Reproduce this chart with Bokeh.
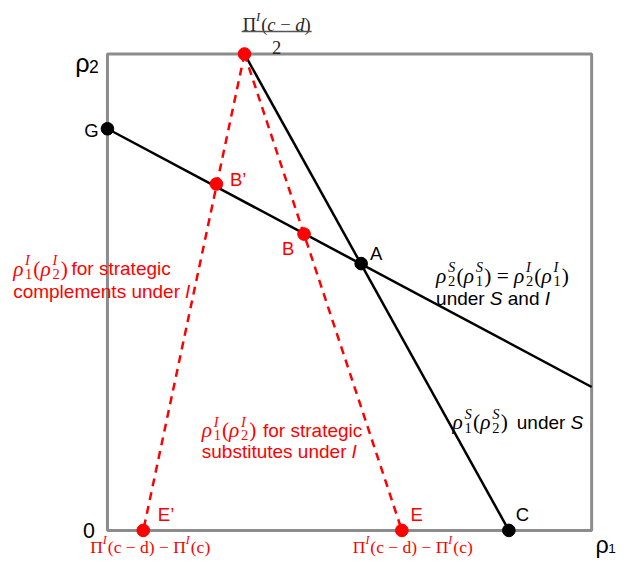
from bokeh.plotting import figure
from bokeh.models import Range1d
from bokeh.embed import file_html
from bokeh.resources import INLINE
from bokeh.core.properties import value

# ---------------- data (unit box: rho1 along x, rho2 along y) ----------------
best_response_S_x = [0.283, 0.829]      # rho1^S(rho2^S) under S
best_response_S_y = [1.0, 0.0]
common_line_x = [0.0, 1.0]              # rho2^S(rho1^S) = rho2^I(rho1^I)
common_line_y = [0.843, 0.301]
complements_x = [0.283, 0.074]          # rho1^I(rho2^I) strategic complements
complements_y = [1.0, 0.0]
substitutes_x = [0.283, 0.608]          # rho1^I(rho2^I) strategic substitutes
substitutes_y = [1.0, 0.0]

black_pts_x = [0.0, 0.524, 0.829]
black_pts_y = [0.843, 0.560, 0.0]
black_pts_lab = ["G", "A", "C"]

red_pts_x = [0.283, 0.225, 0.406, 0.074, 0.608]
red_pts_y = [1.0, 0.727, 0.622, 0.0, 0.0]
red_pts_lab = ["", "B\u2019", "B", "E\u2019", "E"]

# ---------------- figure ----------------
W, H = 616, 561
S = H / 577.0                           # layout scale so the whole fits the window
BOX_L, BOX_B = 110, 545                 # layout placement of the unit box
BOX_PX_X, BOX_PX_Y = 498, 490

def to_data(ix, iy):
    return (ix - BOX_L) / BOX_PX_X, (BOX_B - iy) / BOX_PX_Y

x0, y1 = to_data(0, 0)
x1, y0 = to_data(W / S, H / S)

p = figure(width=W, height=H, output_backend="svg", toolbar_location=None,
           x_range=Range1d(x0, x1), y_range=Range1d(y0, y1),
           x_axis_location=None, y_axis_location=None, min_border=0)
p.outline_line_color = None
p.xgrid.visible = False
p.ygrid.visible = False
p.background_fill_color = "white"
p.border_fill_color = "white"

RED = "#ff0000"
BLACK = "#000000"
GRAY = "#8c8c8c"
SANS = "Liberation Sans"
MATH = "Liberation Serif"

# frame
p.quad(left=0, right=1, bottom=0, top=1, fill_alpha=0, line_color=GRAY, line_width=3)

# lines
p.line(common_line_x, common_line_y, line_color=BLACK, line_width=2.5)
p.line(best_response_S_x, best_response_S_y, line_color=BLACK, line_width=2.5)
p.line(complements_x, complements_y, line_color=RED, line_width=2.5, line_dash="8 6")
p.line(substitutes_x, substitutes_y, line_color=RED, line_width=2.5, line_dash="8 6")

# points
p.scatter(black_pts_x, black_pts_y, size=13 * S, color=BLACK)
p.scatter(red_pts_x, red_pts_y, size=13 * S, color=RED)

# point labels
def point_label(x, y, t, color, dx, dy, align="left"):
    p.text(x=[x], y=[y], text=[t], x_offset=dx * S, y_offset=dy * S, text_align=align,
           text_baseline="middle", text_font=value(SANS),
           text_font_size=f"{19 * S:.1f}px", text_color=color)

black_off = {"G": (-9, 2, "right"), "A": (9, -10, "left"), "C": (7, -16, "left")}
for x, y, t in zip(black_pts_x, black_pts_y, black_pts_lab):
    dx, dy, al = black_off[t]
    point_label(x, y, t, BLACK, dx, dy, al)
red_off = {"B\u2019": (14, -5, "left"), "B": (-10, 15, "right"),
           "E\u2019": (15, -16, "left"), "E": (9, -16, "left")}
for x, y, t in zip(red_pts_x, red_pts_y, red_pts_lab):
    if t:
        dx, dy, al = red_off[t]
        point_label(x, y, t, RED, dx, dy, al)

# ---------------- text runs ----------------
SANS_W = {' ': 278, 'a': 556, 'b': 556, 'c': 500, 'd': 556, 'e': 556, 'f': 278,
          'g': 556, 'h': 556, 'i': 222, 'l': 222, 'm': 833, 'n': 556, 'o': 556,
          'p': 556, 'r': 333, 's': 500, 't': 278, 'u': 556, 'S': 667, 'I': 278}
SERIF_W = {'\u03c1': 560, '(': 333, ')': 333, '=': 564, '\u2212': 564, ' ': 250,
           'S': 520, 'I': 333, '1': 500, '2': 500, 'c': 444, 'd': 500,
           '\u03a0': 722}

def tw(s, table, size):
    return sum(table.get(ch, 500) for ch in s) / 1000.0 * size

def put(ix, iy, t, font, style, size, color, align="left"):
    dx, dy = to_data(ix, iy)
    p.text(x=[dx], y=[dy], text=[t], text_font=value(font), text_font_style=style,
           text_font_size=f"{size * S:.1f}px", text_color=color,
           text_baseline="alphabetic", text_align=align)

def run(ix, base, segs, msize, ssize, color, align="left"):
    items = []
    for seg in segs:
        kind = seg[0]
        if kind == "stack":
            _, sup, sub = seg
            s2 = msize * 0.68
            w = max(tw(sup, SERIF_W, s2), tw(sub, SERIF_W, s2)) + 1
            items.append((w, [(sup, MATH, "italic", s2, msize * 0.40, 0),
                              (sub, MATH, "normal", s2, -msize * 0.24, 0)]))
        elif kind == "sup":
            s2 = msize * 0.68
            items.append((tw(seg[1], SERIF_W, s2) + 1,
                          [(seg[1], MATH, "italic", s2, msize * 0.42, 0)]))
        else:
            text = seg[1]
            stripped = text.lstrip(" ")
            if kind in ("mi", "mr"):
                st = "italic" if kind == "mi" else "normal"
                lead = tw(text[:len(text) - len(stripped)], SERIF_W, msize)
                items.append((tw(text, SERIF_W, msize),
                              [(stripped.rstrip(" "), MATH, st, msize, 0, lead)]))
            else:
                st = "italic" if kind == "si" else "normal"
                lead = tw(text[:len(text) - len(stripped)], SANS_W, ssize)
                items.append((tw(text, SANS_W, ssize),
                              [(stripped.rstrip(" "), SANS, st, ssize, 0, lead)]))
    total = sum(w for w, _ in items)
    x = ix - total / 2 if align == "center" else ix
    for w, parts in items:
        for t, font, st, sz, up, lead in parts:
            if t:
                put(x + lead, base - up, t, font, st, sz, color)
        x += w

RHO = "\u03c1"
MSZ = 22
TSZ = 19.5

# black: rho2^S(rho1^S) = rho2^I(rho1^I) under S and I
run(448, 283, [("mi", RHO), ("stack", "S", "2"), ("mr", "("), ("mi", RHO), ("stack", "S", "1"),
               ("mr", ")"), ("mr", " = "), ("mi", RHO), ("stack", "I", "2"), ("mr", "("),
               ("mi", RHO), ("stack", "I", "1"), ("mr", ")")], MSZ, TSZ, BLACK)
run(448, 307, [("s", "under "), ("si", "S"), ("s", " and "), ("si", "I")], MSZ, TSZ, BLACK)

# black: rho1^S(rho2^S) under S
run(465, 434, [("mi", RHO), ("stack", "S", "1"), ("mr", "("), ("mi", RHO), ("stack", "S", "2"),
               ("mr", ")")], MSZ, TSZ, BLACK)
run(531, 434, [("s", "under "), ("si", "S")], MSZ, TSZ, BLACK)

# red: complements
run(13, 276, [("mi", RHO), ("stack", "I", "1"), ("mr", "("), ("mi", RHO), ("stack", "I", "2"),
              ("mr", ")")], MSZ, TSZ, RED)
run(73, 276, [("s", "for strategic")], MSZ, TSZ, RED)
run(13, 299, [("s", "complements under "), ("si", "I")], MSZ, TSZ, RED)

# red: substitutes
run(207, 442, [("mi", RHO), ("stack", "I", "1"), ("mr", "("), ("mi", RHO), ("stack", "I", "2"),
               ("mr", ")")], MSZ, TSZ, RED)
run(270, 442, [("s", "for strategic")], MSZ, TSZ, RED)
run(207, 464, [("s", "substitutes under "), ("si", "I")], MSZ, TSZ, RED)

# top fraction Pi^I(c - d) / 2
PI = "\u03a0"
MINUS = "\u2212"
run(284, 25, [("mr", PI), ("sup", "I"), ("mr", "("), ("mi", "c"), ("mr", " " + MINUS + " "),
              ("mi", "d"), ("mr", ")")], 19, TSZ, "#262626", align="center")
fx0, fy = to_data(248, 32)
fx1, _ = to_data(320, 32)
p.segment(x0=[fx0], y0=[fy], x1=[fx1], y1=[fy], line_color="#555555", line_width=1.5)
put(284, 48, "2", MATH, "normal", 19, "#262626", align="center")

# bottom labels
for cx in (154, 424):
    run(cx, 562, [("mr", PI), ("sup", "I"), ("mr", "(c " + MINUS + " d) " + MINUS + " "),
                  ("mr", PI), ("sup", "I"), ("mr", "(c)")], 18, TSZ, RED, align="center")

# axis letters
put(77, 64, RHO, SANS, "normal", 26, BLACK)
put(91, 68, "2", SANS, "normal", 18, BLACK)
put(97, 545, "0", SANS, "normal", 22, BLACK, align="right")
put(612, 560, RHO, SANS, "normal", 24, BLACK)
put(625, 564, "1", SANS, "normal", 14, BLACK)

open("out.html", "w").write(file_html(p, INLINE))
